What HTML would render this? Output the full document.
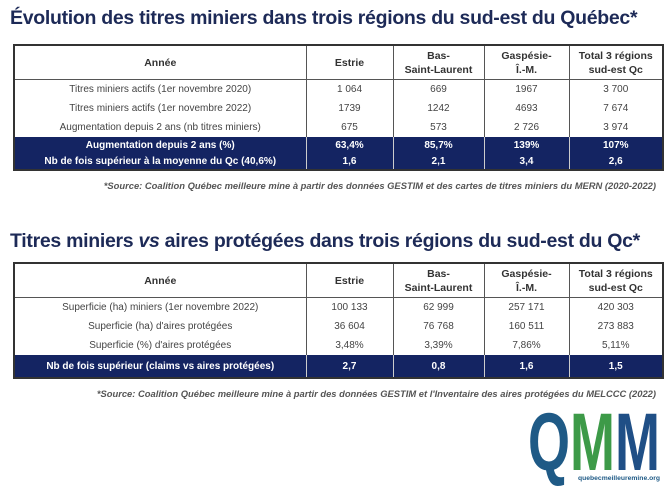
<!DOCTYPE html>
<html><head><meta charset="utf-8"><style>
body{margin:0;width:672px;height:489px;background:#fff;font-family:"Liberation Sans",sans-serif;position:relative;overflow:hidden}
.t{position:absolute;left:10px;font-weight:bold;color:#1d2a57;font-size:19.5px;white-space:nowrap;letter-spacing:-0.3px}
table{position:absolute;left:13px;width:651px;border-collapse:collapse;border:2px solid #333;font-size:10px;color:#444;table-layout:fixed}
td{text-align:center;padding:0;border-left:1px solid #555}
td:first-child{border-left:none}
tr.h td{font-weight:bold;color:#333;height:33px;border-bottom:1px solid #555;line-height:14px;font-size:10.5px}
tr.d td{height:19px}
tr.n td{background:#142462;color:#fff;font-weight:bold;height:16px;border-color:#ccc}
.s{position:absolute;right:16px;font-size:9.4px;font-style:italic;font-weight:bold;color:#555;white-space:nowrap}
</style></head><body>
<div class="t" style="top:7px">Évolution des titres miniers dans trois régions du sud-est du Québec*</div>
<table style="top:44px">
<colgroup><col style="width:292px"><col style="width:87px"><col style="width:91px"><col style="width:85px"><col></colgroup>
<tr class="h"><td>Année</td><td>Estrie</td><td>Bas-<br>Saint-Laurent</td><td>Gaspésie-<br>Î.-M.</td><td>Total 3 régions<br>sud-est Qc</td></tr>
<tr class="d"><td>Titres miniers actifs (1er novembre 2020)</td><td>1 064</td><td>669</td><td>1967</td><td>3 700</td></tr>
<tr class="d"><td>Titres miniers actifs (1er novembre 2022)</td><td>1739</td><td>1242</td><td>4693</td><td>7 674</td></tr>
<tr class="d"><td>Augmentation depuis 2 ans (nb titres miniers)</td><td>675</td><td>573</td><td>2 726</td><td>3 974</td></tr>
<tr class="n"><td>Augmentation depuis 2 ans (%)</td><td>63,4%</td><td>85,7%</td><td>139%</td><td>107%</td></tr>
<tr class="n"><td>Nb de fois supérieur à la moyenne du Qc (40,6%)</td><td>1,6</td><td>2,1</td><td>3,4</td><td>2,6</td></tr>
</table>
<div class="s" style="top:180px">*Source: Coalition Québec meilleure mine à partir des données GESTIM et des cartes de titres miniers du MERN (2020-2022)</div>
<div class="t" style="top:230px">Titres miniers <i>vs</i> aires protégées dans trois régions du sud-est du Qc*</div>
<table style="top:262px">
<colgroup><col style="width:292px"><col style="width:87px"><col style="width:91px"><col style="width:85px"><col></colgroup>
<tr class="h"><td>Année</td><td>Estrie</td><td>Bas-<br>Saint-Laurent</td><td>Gaspésie-<br>Î.-M.</td><td>Total 3 régions<br>sud-est Qc</td></tr>
<tr class="d"><td>Superficie (ha) miniers (1er novembre 2022)</td><td>100 133</td><td>62 999</td><td>257 171</td><td>420 303</td></tr>
<tr class="d"><td>Superficie (ha) d'aires protégées</td><td>36 604</td><td>76 768</td><td>160 511</td><td>273 883</td></tr>
<tr class="d"><td>Superficie (%) d'aires protégées</td><td>3,48%</td><td>3,39%</td><td>7,86%</td><td>5,11%</td></tr>
<tr class="n"><td style="height:22px">Nb de fois supérieur (claims vs aires protégées)</td><td>2,7</td><td>0,8</td><td>1,6</td><td>1,5</td></tr>
</table>
<div class="s" style="top:388px">*Source: Coalition Québec meilleure mine à partir des données GESTIM et l'Inventaire des aires protégées du MELCCC (2022)</div>
<svg style="position:absolute;left:0;top:0" width="672" height="489">
<text x="528" y="470" font-family="Liberation Sans" font-size="82" font-weight="bold" textLength="132" lengthAdjust="spacingAndGlyphs"><tspan fill="#1f5a86">Q</tspan><tspan fill="#3d9a48">M</tspan><tspan fill="#1f4f86">M</tspan></text>
<text x="578" y="480" font-family="Liberation Sans" font-size="6" font-weight="bold" fill="#1f5a86" textLength="82" lengthAdjust="spacingAndGlyphs">quebecmeilleuremine.org</text>
</svg>
</body></html>
